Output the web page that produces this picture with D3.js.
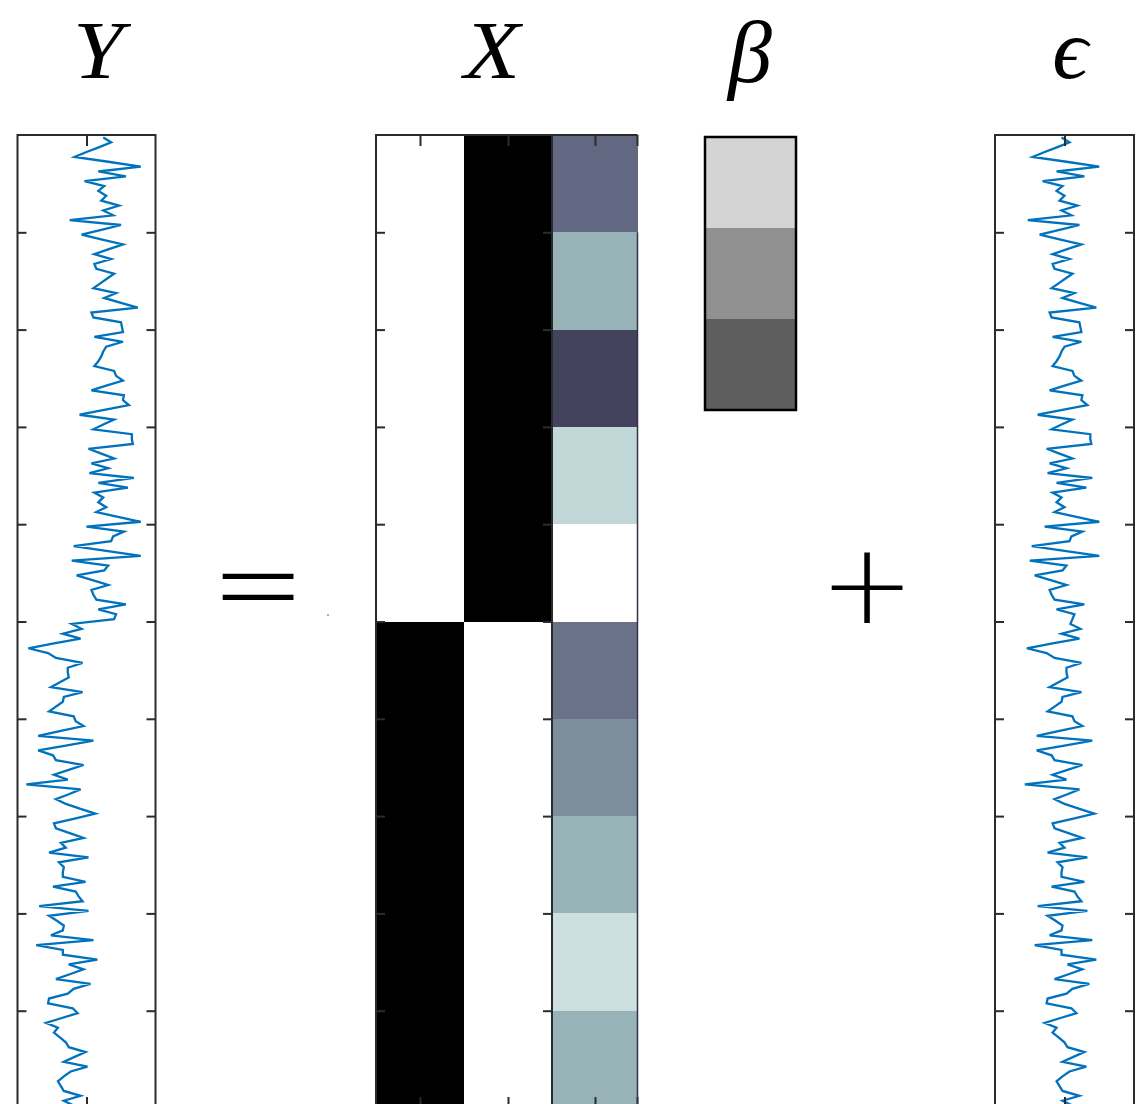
<!DOCTYPE html>
<html><head><meta charset="utf-8">
<script src="https://cdn.jsdelivr.net/npm/d3@7"></script>
<style>html,body{margin:0;padding:0;background:#fff;} svg{display:block;}</style>
</head><body>
<svg id="chart" width="1138" height="1104"></svg>
<script>
// ---- data ----
const epsilonValues = [
 -3,5,-7,-20,-32,2,35,-8,20,-22,-2,-8,0,-5,13,-3,7,-37,15,-5,
 -25,-4,17,2,-12,5,-12,-10,8,1,-6,-13,10,-2,15,32,-15,-13,15,16,
 17,-12,17,0,-3,-5,-8,-12,8,10,17,0,-15,18,17,23,-2,-27,8,-3,
 -13,26,26,27,-18,-5,8,-15,2,-17,28,-8,22,-12,-3,-8,0,-10,12,35,
 -20,18,7,5,-33,0,35,-35,2,-2,-30,-14,2,-15,-13,-10,20,-8,10,8,
 6,16,-3,15,-12,-38,-18,-10,17,2,2,3,-6,-15,17,-2,-3,-10,-17,8,
 10,18,-5,-28,28,0,-28,-13,-10,18,3,-12,2,-40,15,3,-10,0,15,30,
 9,-12,-10,4,18,-5,0,-17,23,-7,-2,-3,-3,20,-13,10,13,17,-27,23,
 -17,-9,-2,-3,-15,28,-30,-3,-3,32,3,18,4,-10,25,8,2,-17,-18,7,
 12,-4,-20,-8,-12,-6,0,3,20,9,-2,22,5,-2,-8,-5,-2,15,-2,8
];
const yValues = [
 17,25,13,0,-12,22,55,12,40,-2,18,12,20,15,33,17,27,-17,35,15,
 -5,16,37,22,8,25,8,10,28,21,14,7,30,18,35,52,5,7,35,36,
 37,8,37,20,17,15,12,8,28,30,37,20,5,38,37,43,18,-7,28,17,
 7,46,46,47,2,15,28,5,22,3,48,12,42,8,17,12,20,10,32,55,
 0,38,27,25,-13,20,55,-15,22,18,-10,6,22,5,7,10,40,12,30,28,
 -15,-5,-24,-6,-33,-59,-39,-31,-4,-19,-19,-18,-27,-36,-4,-23,-24,-31,-38,-13,
 -11,-3,-26,-49,7,-21,-49,-34,-31,-3,-18,-33,-19,-61,-6,-18,-31,-21,-6,9,
 -12,-33,-31,-17,-3,-26,-21,-38,2,-28,-23,-24,-24,-1,-34,-11,-8,-4,-48,2,
 -38,-30,-23,-24,-36,7,-51,-24,-24,11,-18,-3,-17,-31,4,-13,-19,-38,-39,-14,
 -9,-25,-41,-29,-33,-27,-21,-18,-1,-12,-23,1,-16,-23,-29,-26,-23,-6,-23,-13
];
const rowTicks = [20,40,60,80,100,120,140,160,180];
const rowCount = 200;
const blockSize = 20;
const designColA = [0,0,0,0,0,1,1,1,1,1];   // 1 = black
const designColB = [1,1,1,1,1,0,0,0,0,0];
const covariate = [0.45,0.69,0.31,0.83,1.0,0.48,0.566,0.69,0.86,0.69];
const betaValues = [0.83,0.565,0.37];
const labelY = "Y", labelX = "X", labelBeta = "β", labelEps = "ϵ";
const signEq = "=", signPlus = "+";

// ---- layout ----
const svg = d3.select("#chart");
const TOP = 135, BOTTOM = 1108;
const AX = "#2b2b2b";
const yRow = d3.scaleLinear().domain([0, rowCount]).range([TOP, BOTTOM]);
const boneColor = d3.scaleLinear().domain([0,0.375,0.75,1])
  .range(["#000000","#515171","#a6c6c6","#ffffff"]);
const indicatorColor = d3.scaleLinear().domain([0,1]).range(["#ffffff","#000000"]);
const grayColor = d3.scaleLinear().domain([0,1]).range(["#000000","#ffffff"]);

function rowAxes(g, x0, x1, len){
  g.append("g").attr("transform",`translate(${x0},0)`)
   .call(d3.axisLeft(yRow).tickValues(rowTicks).tickSize(-len).tickFormat(""))
   .call(s=>{s.select(".domain").remove(); s.selectAll("line").attr("stroke",AX).attr("stroke-width",2);});
  g.append("g").attr("transform",`translate(${x1},0)`)
   .call(d3.axisRight(yRow).tickValues(rowTicks).tickSize(-len).tickFormat(""))
   .call(s=>{s.select(".domain").remove(); s.selectAll("line").attr("stroke",AX).attr("stroke-width",2);});
}
function colAxes(g, scale, vals, len){
  g.append("g").attr("transform",`translate(0,${TOP})`)
   .call(d3.axisTop(scale).tickValues(vals).tickSize(-len).tickFormat(""))
   .call(s=>{s.select(".domain").remove(); s.selectAll("line").attr("stroke",AX).attr("stroke-width",2);});
  g.append("g").attr("transform",`translate(0,${BOTTOM})`)
   .call(d3.axisBottom(scale).tickValues(vals).tickSize(-len).tickFormat(""))
   .call(s=>{s.select(".domain").remove(); s.selectAll("line").attr("stroke",AX).attr("stroke-width",2);});
}

function seriesPanel(x0, x1, values){
  const g = svg.append("g");
  const xs = d3.scaleLinear().domain([-70,70]).range([x0,x1]);
  g.append("rect").attr("x",x0).attr("y",TOP).attr("width",x1-x0).attr("height",BOTTOM-TOP)
   .attr("fill","#fff");
  const line = d3.line().x(d=>xs(d)).y((d,i)=>yRow(i+0.5));
  g.append("path").datum(values).attr("d",line).attr("fill","none")
   .attr("stroke","#0072BD").attr("stroke-width",2.3).attr("stroke-linejoin","miter");
  rowAxes(g, x0, x1, 9);
  colAxes(g, xs, [0], 11);
  g.append("rect").attr("x",x0).attr("y",TOP).attr("width",x1-x0).attr("height",BOTTOM-TOP)
   .attr("fill","none").attr("stroke",AX).attr("stroke-width",2);
}
seriesPanel(17.5, 155.5, yValues);
seriesPanel(995, 1134, epsilonValues);

// ---- design matrix X ----
const xg = svg.append("g");
const colBand = d3.scaleBand().domain([0,1]).range([376,552]);
const blocks = d3.range(designColA.length);
[designColA, designColB].forEach((col, c)=>{
  xg.selectAll(null).data(blocks).enter().append("rect")
    .attr("x", colBand(c)).attr("width", colBand.bandwidth())
    .attr("y", b=>yRow(b*blockSize)).attr("height", b=>yRow((b+1)*blockSize)-yRow(b*blockSize)+1)
    .attr("fill", b=>indicatorColor(col[b])).attr("shape-rendering","crispEdges");
});
const covBand = d3.scaleBand().domain([0]).range([552,637.5]);
xg.selectAll(null).data(blocks).enter().append("rect")
  .attr("x", covBand(0)).attr("width", covBand.bandwidth())
  .attr("y", b=>yRow(b*blockSize)).attr("height", b=>yRow((b+1)*blockSize)-yRow(b*blockSize)+1)
  .attr("fill", b=>boneColor(covariate[b])).attr("shape-rendering","crispEdges");
rowAxes(xg, 376, 552, 9);
const colCenters = d3.scaleLinear().domain([0,1]).range([colBand(0)+colBand.bandwidth()/2, colBand(1)+colBand.bandwidth()/2]);
colAxes(xg, colCenters, [0,1], 11);
const covTicks = d3.scaleLinear().domain([0,1]).range([595,637]);
colAxes(xg, covTicks, [0,1], 11);
xg.append("rect").attr("x",376).attr("y",TOP).attr("width",176).attr("height",BOTTOM-TOP)
  .attr("fill","none").attr("stroke",AX).attr("stroke-width",2);
xg.append("line").attr("x1",376).attr("x2",637.5).attr("y1",TOP).attr("y2",TOP)
  .attr("stroke",AX).attr("stroke-width",2);
xg.append("line").attr("x1",637.5).attr("x2",637.5).attr("y1",yRow(blockSize)).attr("y2",BOTTOM)
  .attr("stroke","#33334a").attr("stroke-width",1.5);

// ---- beta ----
const bg = svg.append("g");
const betaBand = d3.scaleBand().domain(d3.range(betaValues.length)).range([137,410]);
bg.selectAll(null).data(betaValues).enter().append("rect")
  .attr("x",705).attr("width",91).attr("y",(d,i)=>betaBand(i)).attr("height",betaBand.bandwidth()+0.5)
  .attr("fill",d=>grayColor(d));
bg.append("rect").attr("x",705).attr("y",137).attr("width",91).attr("height",273)
  .attr("fill","none").attr("stroke","#000").attr("stroke-width",2.5);

// ---- labels ----
const serif = '"Liberation Serif","DejaVu Serif",serif';
const thin = '"DejaVu Sans Light","DejaVu Sans",sans-serif';
function label(txt, x, y, size, sx){
  return svg.append("text").attr("transform",`translate(${x},${y}) scale(${sx},1)`)
    .attr("text-anchor","middle")
    .attr("font-family",serif).attr("font-size",size).attr("font-style","italic")
    .attr("fill","#000").text(txt);
}
label(labelY, 98, 78, 82, 1.1);
label(labelX, 492, 78, 82, 1.12);
label(labelBeta, 750, 82, 88, 1.0);
label(labelEps, 1070, 78, 84, 1.05);
svg.append("text").attr("transform","translate(258,629) scale(0.85,1)")
  .attr("text-anchor","middle").attr("font-family",thin).attr("font-weight",200)
  .attr("font-size",133).attr("fill","#000").text(signEq);
svg.append("text").attr("x",867).attr("y",623).attr("text-anchor","middle")
  .attr("font-family",thin).attr("font-weight",200)
  .attr("font-size",113).attr("fill","#000").text(signPlus);
svg.append("circle").attr("cx",328).attr("cy",615).attr("r",0.8).attr("fill","#444");
</script>
</body></html>
